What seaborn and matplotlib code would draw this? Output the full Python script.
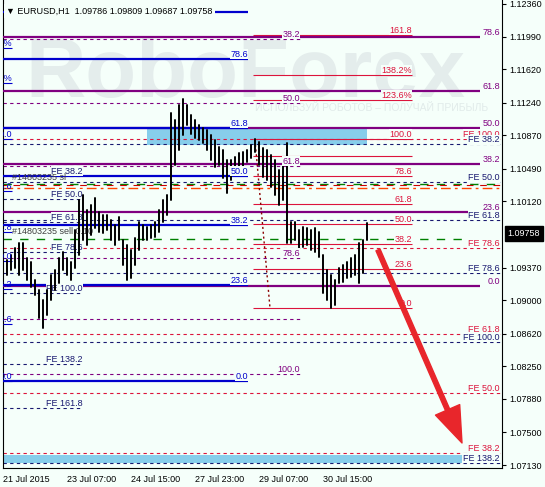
import pandas as pd
import matplotlib
matplotlib.use("Agg")
import matplotlib.pyplot as plt
import seaborn as sns

# === Price bars (EURUSD H1, one bar drawn per 2 hours, hour 0 = 21 Jul 23:00)
bar_hour = list(range(0, 184, 2))
bar_high = [1.0948, 1.0946, 1.0951, 1.0959, 1.0965, 1.0965, 1.0948, 1.0943, 1.0923, 1.0912,
            1.0900, 1.0912, 1.0929, 1.0934, 1.0948, 1.0955, 1.0948, 1.0943, 1.0980, 1.1014,
            1.1019, 1.1002, 1.1008, 1.1016, 1.1000, 1.0997, 1.0997, 1.0991, 1.0985, 1.0994,
            1.0968, 1.0963, 1.0957, 1.0971, 1.0989, 1.0985, 1.0983, 1.0985, 1.0989, 1.1002,
            1.1014, 1.1019, 1.1112, 1.1104, 1.1121, 1.1128, 1.1121, 1.1110, 1.1104, 1.1099,
            1.1095, 1.1093, 1.1087, 1.1082, 1.1074, 1.1070, 1.1059, 1.1059, 1.1062, 1.1067,
            1.1068, 1.1070, 1.1076, 1.1083, 1.1079, 1.1073, 1.1070, 1.1065, 1.1059, 1.1048,
            1.1053, 1.1078, 1.0989, 1.0989, 1.0980, 1.0983, 1.0982, 1.0980, 1.0982, 1.0977,
            1.0951, 1.0934, 1.0929, 1.0923, 1.0937, 1.0940, 1.0943, 1.0948, 1.0951, 1.0965,
            1.0968, 1.0988]
bar_low = [1.0932, 1.0929, 1.0934, 1.0937, 1.0929, 1.0934, 1.0923, 1.0915, 1.0906, 1.0880,
           1.0868, 1.0883, 1.0900, 1.0912, 1.0919, 1.0934, 1.0929, 1.0923, 1.0937, 1.0951,
           1.0968, 1.0963, 1.0974, 1.0982, 1.0977, 1.0976, 1.0980, 1.0968, 1.0963, 1.0968,
           1.0940, 1.0923, 1.0925, 1.0940, 1.0957, 1.0968, 1.0968, 1.0971, 1.0972, 1.0977,
           1.0989, 1.0997, 1.1014, 1.1053, 1.1070, 1.1087, 1.1099, 1.1089, 1.1084, 1.1082,
           1.1078, 1.1070, 1.1059, 1.1051, 1.1053, 1.1039, 1.1022, 1.1036, 1.1042, 1.1050,
           1.1052, 1.1057, 1.1061, 1.1068, 1.1053, 1.1040, 1.1036, 1.1028, 1.1019, 1.1008,
           1.1014, 1.0965, 1.0965, 1.0968, 1.0957, 1.0960, 1.0963, 1.0957, 1.0955, 1.0949,
           1.0908, 1.0900, 1.0891, 1.0894, 1.0919, 1.0921, 1.0925, 1.0926, 1.0929, 1.0919,
           1.0931, 1.0968]
last_price = 1.09758
ohlc_title = "EURUSD,H1  1.09786 1.09809 1.09687 1.09758"

# === Fibonacci objects
blue_levels = [1.12269, 1.11736, 1.10953, 1.10408, 1.09853, 1.09172, 1.08083]
blue_labels = ["", "78.6", "61.8", "50.0", "38.2", "23.6", "0.0"]
purple_levels = [1.11985, 1.11373, 1.10953, 1.10545, 1.10000, 1.09160]
purple_labels = ["78.6", "61.8", "50.0", "38.2", "23.6", "0.0"]
purple_dash_levels = [1.11963, 1.11237, 1.10520, 1.09478, 1.08786, 1.08162]
purple_dash_labels = ["38.2", "50.0", "61.8", "78.6", "", "100.0"]
red_levels = [1.12008, 1.11554, 1.11271, 1.10828, 1.10635, 1.10408, 1.10091,
              1.09864, 1.09637, 1.09353, 1.08911]
red_labels = ["161.8", "138.2%", "123.6%", "100.0", "", "78.6", "61.8",
              "50.0", "38.2", "23.6", "0.0"]
fe_navy_levels = [1.10766, 1.10335, 1.09909, 1.09308, 1.08525, 1.07153]
fe_navy_labels = ["FE 38.2", "FE 50.0", "FE 61.8", "FE 78.6", "FE 100.0", "FE 138.2"]
fe_red_levels = [1.10828, 1.09592, 1.08616, 1.07947, 1.07266]
fe_red_labels = ["FE 100.0", "FE 78.6", "FE 61.8", "FE 50.0", "FE 38.2"]
fe_left_levels = [1.10408, 1.10148, 1.09887, 1.09546, 1.09081, 1.08276, 1.07777]
fe_left_labels = ["FE 38.2", "FE 50.0", "FE 61.8", "FE 78.6", "FE 100.0", "FE 138.2", "FE 161.8"]
edge_levels = [1.11860, 1.11463, 1.10828, 1.10238, 1.09773, 1.09444, 1.09127, 1.08730, 1.08083]
edge_labels = ["138.2%", "123.6%", "100.0", "78.6", "61.8", "50.0", "38.2", "23.6", "0.0"]

# order lines
order_green = [1.10318, 1.09694]
order_red = 1.10305
order_orange = 1.10272
order_texts = [(1.10335, "#14803235 sl"), (1.09725, "#14803235 sell 0.10")]

zones = [(72, 182, 1.10760, 1.10953), (0, 229.5, 1.07153, 1.07243)]
trend_pts = ([126, 133.5], [1.1082, 1.0891])
arrow_from = (187.5, 1.0957)
arrow_to = (229.5, 1.0738)

price_ticks = [1.12360, 1.11990, 1.11620, 1.11240, 1.10870, 1.10490, 1.10120,
               1.09370, 1.09000, 1.08620, 1.08250, 1.07880, 1.07500, 1.07130]
time_ticks = [0, 32, 64, 96, 128, 160]
time_labels = ["21 Jul 2015", "23 Jul 07:00", "24 Jul 15:00", "27 Jul 23:00",
               "29 Jul 07:00", "30 Jul 15:00"]

# === Style
BG = "#f5fffa"
BLUE = "#0000cd"
PURPLE = "#800080"
RED = "#dc143c"
NAVY = "#191970"
FS = 6.5

sns.set_theme(style="white", rc={"axes.facecolor": BG, "figure.facecolor": BG})
plt.rcParams["font.family"] = ["Liberation Sans", "DejaVu Sans"]

fig = plt.figure(figsize=(5.45, 4.87), dpi=100)
ax = fig.add_axes([3 / 545, 19 / 487, 499 / 545, 468 / 487])
ax.set_xlim(0, 249.5)
ax.set_ylim(1.07096, 1.12405)

box = dict(boxstyle="square,pad=0.05", fc=BG, ec="none")


def label(x, y, s, color, z=5, ha="right"):
    if s:
        ax.annotate(s, (x, y), xytext=(0, 0.2), textcoords="offset points",
                    ha=ha, va="bottom", color=color, fontsize=FS, zorder=z, bbox=box)


# watermark
ax.text(25 / 545, 1 - 97 / 487, "RoboForex", transform=fig.transFigure, fontsize=60,
        color="#e4edec", fontweight="bold", zorder=0.1, va="baseline")
ax.text(255 / 545, 1 - 108 / 487, "ИСПОЛЬЗУЙ РОБОТОВ – ПОЛУЧАЙ ПРИБЫЛЬ",
        transform=fig.transFigure, fontsize=7.5, color="#e1ebea", zorder=0.1, va="center")

# zones
for x0, x1, y0, y1 in zones:
    ax.fill_between([x0, x1], y0, y1, color="#87ceeb", lw=0, zorder=1)

# fibo lines
ax.hlines(purple_dash_levels, 0, 148.5, colors=PURPLE, lw=0.8, ls=(0, (3, 3)), zorder=2)
for y, s in zip(purple_dash_levels, purple_dash_labels):
    label(148.5, y, s, PURPLE)

ax.hlines(red_levels, 125, 204.5, colors=RED, lw=0.8, zorder=2)
for y, s in zip(red_levels, red_labels):
    label(204.5, y, s, RED)

ax.hlines(fe_red_levels, 0, 248.5, colors=RED, lw=0.8, ls=(0, (3, 3)), zorder=2)
for y, s in zip(fe_red_levels, fe_red_labels):
    label(248.5, y, s, RED, z=5)

ax.hlines(fe_navy_levels, 0, 248.5, colors=NAVY, lw=0.8, ls=(0, (3, 3)), zorder=2)
for y, s in zip(fe_navy_levels, fe_navy_labels):
    label(248.5, y, s, NAVY, z=6)

ax.hlines(fe_left_levels, 0, 40, colors=NAVY, lw=0.8, ls=(0, (3, 3)), zorder=2)
for y, s in zip(fe_left_levels, fe_left_labels):
    label(40, y, s, NAVY, z=4)

ax.hlines(purple_levels, 0, 238.5, colors=PURPLE, lw=1.6, zorder=3)
for y, s in zip(purple_levels, purple_labels):
    label(248.5, y, s, PURPLE, z=5)

ax.hlines(blue_levels, 0, 122.5, colors=BLUE, lw=1.6, zorder=3.5)
for y, s in zip(blue_levels, blue_labels):
    label(122.5, y, s, BLUE, z=5)

# labels of a fibo lying left of the window
ax.hlines(edge_levels, 0, 4.5, colors=BLUE, lw=0.8, zorder=3)
for y, s in zip(edge_levels, edge_labels):
    ax.text(4.5, y, s, ha="right", va="bottom", color=BLUE, fontsize=FS,
            clip_on=True, zorder=5)

# order lines
ax.hlines(order_green, 0, 248.5, colors="#008000", lw=1.0, ls=(0, (6, 6)), zorder=2.5)
ax.hlines(order_red, 0, 248.5, colors="#cc0000", lw=0.8, ls=(3, (6, 6)), zorder=2.5)
ax.hlines(order_orange, 0, 248.5, colors="#ff4500", lw=1.0, ls=(0, (7, 3, 2, 3)), zorder=2.5)
for y, s in order_texts:
    ax.text(4.5, y, s, ha="left", va="bottom", color="#404040", fontsize=FS, zorder=4)

# trend line of the red fibo
ax.plot(*trend_pts, color="#8b0000", lw=1.0, ls=(0, (1.5, 2)), zorder=3)

# price bars
bars = pd.DataFrame({
    "bar": list(range(len(bar_hour))) * 2,
    "hour": bar_hour * 2,
    "price": bar_high + bar_low,
})
sns.lineplot(data=bars, x="hour", y="price", units="bar", estimator=None, sort=False,
             color="black", linewidth=1.4, ax=ax, legend=False, zorder=4)

# forecast arrow
ax.annotate("", xy=arrow_to, xytext=arrow_from, zorder=7,
            arrowprops=dict(arrowstyle="simple,head_length=2.6,head_width=1.9,tail_width=0.32",
                            color="#e8262b", shrinkA=0, shrinkB=0, mutation_scale=10))

# title
ax.text(1.5, 1.12280, "▼ " + ohlc_title, ha="left", va="center", fontsize=FS,
        color="black", zorder=8, bbox=dict(boxstyle="square,pad=0.25", fc=BG, ec="none"))

# axes
ax.spines["top"].set_visible(False)
for side in ["left", "bottom", "right"]:
    ax.spines[side].set_color("black")
    ax.spines[side].set_linewidth(0.8)
ax.yaxis.tick_right()
ax.set_yticks(price_ticks)
ax.set_yticklabels([f"{p:.5f}" for p in price_ticks])
ax.set_xticks(time_ticks)
ax.set_xticklabels(time_labels, ha="left")
ax.tick_params(axis="both", length=3, width=0.8, pad=2, labelsize=FS, colors="black",
               direction="out")
ax.set_xlabel("")
ax.set_ylabel("")

ax.annotate(f"{last_price:.5f}", xy=(1.0, last_price), xycoords=("axes fraction", "data"),
            xytext=(4, 0), textcoords="offset points", ha="left", va="center",
            color="white", fontsize=FS, annotation_clip=False, zorder=9,
            bbox=dict(boxstyle="square,pad=0.3", fc="black", ec="black"))

fig.savefig("out.png", dpi=100, facecolor=BG)
